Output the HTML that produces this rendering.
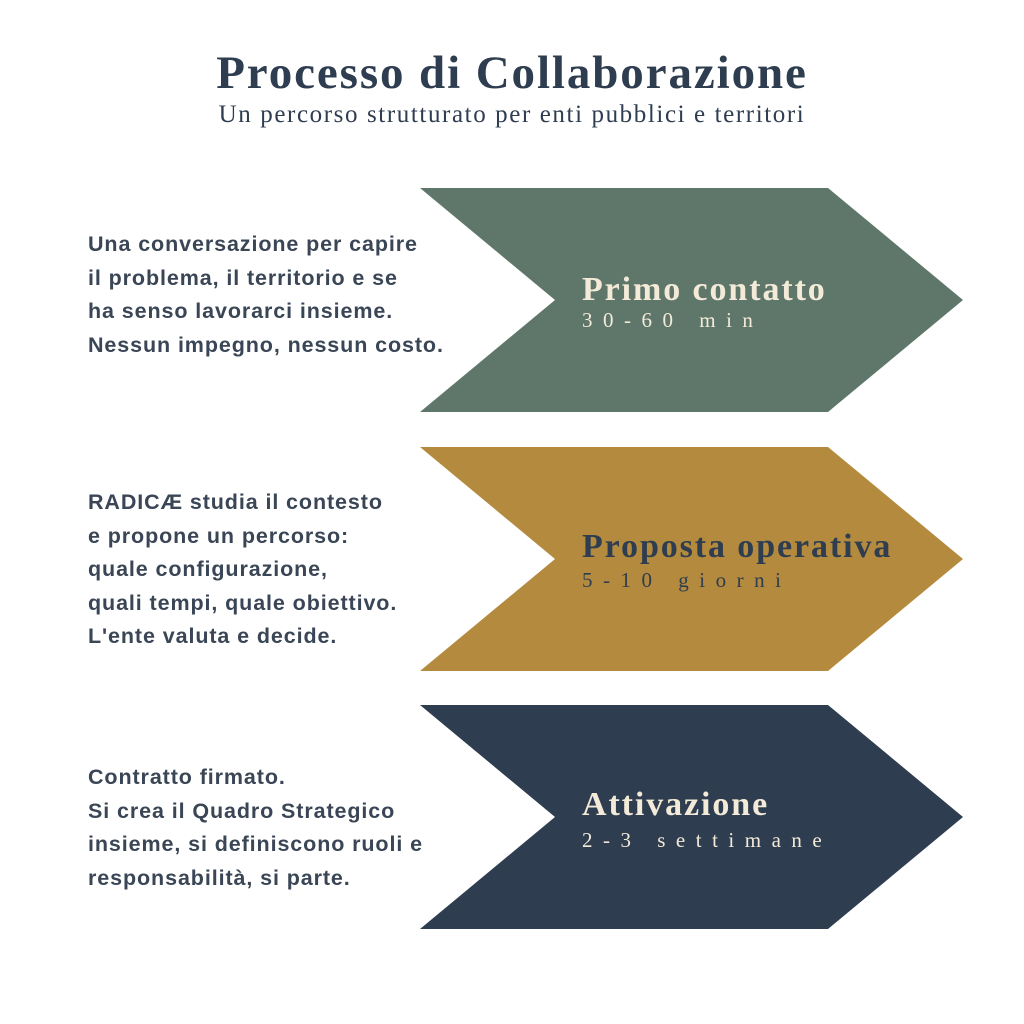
<!DOCTYPE html>
<html><head><meta charset="utf-8"><style>
body{margin:0;width:1024px;height:1024px;background:#fff;overflow:hidden;position:relative}
.t{position:absolute;left:0;width:1024px;text-align:center;font-family:"Liberation Serif",serif;color:#2e3d4f}
.l{position:absolute;left:88px;font-family:"Liberation Sans",sans-serif;font-weight:bold;font-size:21.5px;letter-spacing:0.9px;line-height:33.5px;color:#3a4656;white-space:nowrap}
</style></head><body>
<div class="t" style="top:46px;font-size:47px;font-weight:bold;letter-spacing:1.9px">Processo di Collaborazione</div>
<div class="t" style="top:101px;font-size:25px;letter-spacing:1.6px">Un percorso strutturato per enti pubblici e territori</div>
<svg width="1024" height="1024" style="position:absolute;left:0;top:0">
<polygon points="420,188 828,188 963,300 828,412 420,412 555,300" fill="#5f776a"/>
<polygon points="420,447 828,447 963,559 828,671 420,671 555,559" fill="#b48a3e"/>
<polygon points="420,705 828,705 963,817 828,929 420,929 555,817" fill="#2e3d4f"/>
<g font-family="Liberation Serif,serif" font-weight="bold" font-size="34" letter-spacing="1.9" fill="#f3ead8">
<text x="582" y="300">Primo contatto</text>
<text x="582" y="557" fill="#2e3d4f">Proposta operativa</text>
<text x="582" y="815">Attivazione</text>
</g>
<g font-family="Liberation Serif,serif" font-size="21" letter-spacing="10.5" fill="#f3ead8">
<text x="582" y="327">30-60 min</text>
<text x="582" y="587" fill="#2e3d4f">5-10 giorni</text>
<text x="582" y="847">2-3 settimane</text>
</g>
</svg>
<div class="l" style="top:228px">Una conversazione per capire<br>il problema, il territorio e se<br>ha senso lavorarci insieme.<br>Nessun impegno, nessun costo.</div>
<div class="l" style="top:486px">RADICÆ studia il contesto<br>e propone un percorso:<br>quale configurazione,<br>quali tempi, quale obiettivo.<br>L'ente valuta e decide.</div>
<div class="l" style="top:761px">Contratto firmato.<br>Si crea il Quadro Strategico<br>insieme, si definiscono ruoli e<br>responsabilità, si parte.</div>
</body></html>
